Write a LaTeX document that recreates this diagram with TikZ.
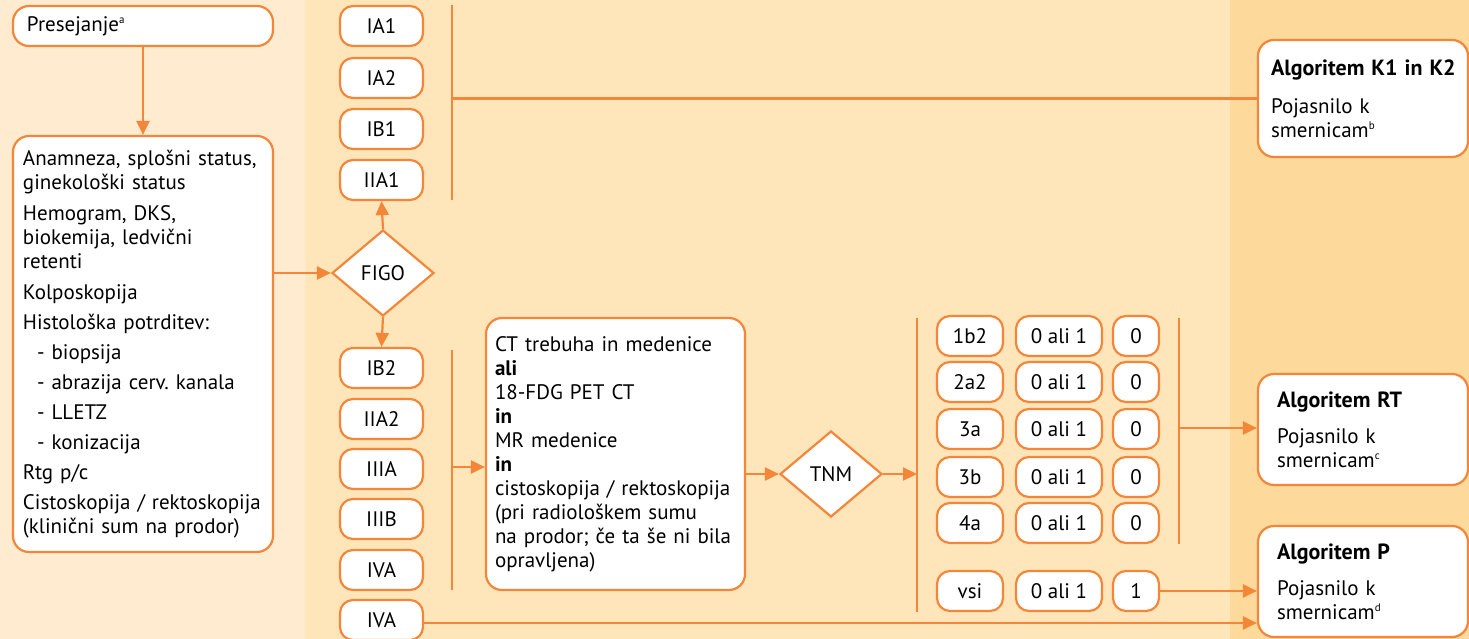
\documentclass[tikz,border=0pt]{standalone}
\usepackage{fontspec}
\setmainfont{PT Sans}
\usetikzlibrary{arrows.meta,shapes.geometric}
\definecolor{bgL}{HTML}{FEEBD0}
\definecolor{bgM}{HTML}{FEE5BA}
\definecolor{bgR}{HTML}{FDD99B}
\definecolor{org}{HTML}{F4863A}
\frenchspacing
\newcommand{\sups}[1]{\textsuperscript{\fontsize{11}{11}\selectfont #1}}
\newcommand{\hd}[1]{\mbox{\fontsize{22}{24}\selectfont\bfseries #1}}
\tikzset{
  box/.style={draw=org, line width=2.2pt, fill=white, rounded corners=13pt, inner sep=0pt,
    font=\fontsize{21}{24}\selectfont},
  stage/.style={box, minimum width=83pt, minimum height=40pt},
  tnmbox/.style={box, minimum height=40pt},
  bigbox/.style={box, rounded corners=16pt, align=left},
  dia/.style={diamond, draw=org, line width=2.2pt, fill=white, inner sep=0pt,
    minimum width=102pt, minimum height=86pt, font=\fontsize{21}{24}\selectfont},
  arr/.style={draw=org, line width=2.2pt, -{Triangle[length=14pt,width=13pt]}},
  ln/.style={draw=org, line width=2.2pt},
}
\begin{document}
\begin{tikzpicture}[x=1pt,y=-1pt]
\useasboundingbox (0,0) rectangle (1469,639);
\fill[bgL] (0,0) rectangle (305,639);
\fill[bgM] (305,0) rectangle (1230,639);
\fill[bgR] (1230,0) rectangle (1469,639);

% left column
\node[bigbox, minimum width=260pt, minimum height=40pt, text width=232pt, inner xsep=14pt] (pres) at (143,26) {Presejanje\sups{a}};
\node[bigbox, minimum width=260pt, minimum height=416pt, text width=240pt, inner xsep=10pt] (anam) at (143,344)
 {\mbox{Anamneza, splošni status,}\\ ginekološki status\\[7pt]
  Hemogram, DKS,\\ biokemija, ledvični\\ retenti\\[7pt]
  Kolposkopija\\[6pt]
  Histološka potrditev:\\[6pt]
  \hspace*{14pt}- biopsija\\[6pt]
  \hspace*{14pt}\mbox{- abrazija cerv. kanala}\\[6pt]
  \hspace*{14pt}- LLETZ\\[6pt]
  \hspace*{14pt}- konizacija\\[6pt]
  Rtg p/c\\[6pt]
  \mbox{Cistoskopija / rektoskopija}\\ \mbox{(klinični sum na prodor)}};

% FIGO stages
\node[stage] (ia1) at (381.5,26) {IA1};
\node[stage] (ia2) at (381.5,78) {IA2};
\node[stage] (ib1) at (381.5,129) {IB1};
\node[stage] (iia1) at (381.5,180) {IIA1};
\node[dia] (figo) at (383,273) {FIGO};
\node[stage] (ib2) at (381.5,368) {IB2};
\node[stage] (iia2) at (381.5,419) {IIA2};
\node[stage] (iiia) at (381.5,469) {IIIA};
\node[stage] (iiib) at (381.5,519) {IIIB};
\node[stage] (iva) at (381.5,570) {IVA};
\node[stage] (ivb) at (381.5,620) {IVA};

% CT box
\node[bigbox, minimum width=259pt, minimum height=272pt, text width=241pt, inner xsep=9pt] (ct) at (615.5,454)
 {\mbox{CT trebuha in medenice}\\ \textbf{ali}\\ 18-FDG PET CT\\ \textbf{in}\\ MR medenice\\ \textbf{in}\\
  \mbox{cistoskopija / rektoskopija}\\ \mbox{(pri radiološkem sumu}\\ \mbox{na prodor; če ta še ni bila}\\ opravljena)};
\node[dia] (tnm) at (831,474) {TNM};

% TNM grid
\foreach \r/\t/\c/\y in {a/1b2/0/336, b/2a2/0/382, c/3a/0/429, d/3b/0/477, e/4a/0/523, f/vsi/1/591}{
  \node[tnmbox, minimum width=66pt] (t\r) at (970,\y) {\t};
  \node[tnmbox, minimum width=86pt] (n\r) at (1059,\y) {0 ali 1};
  \node[tnmbox, minimum width=46pt] (m\r) at (1136,\y) {\c};
}

% right boxes
\node[bigbox, minimum width=210pt, minimum height=117pt, text width=184pt, inner xsep=13pt] (k1) at (1363,98.5)
 {\hd{Algoritem K1 in K2}\\[14pt] Pojasnilo k\\ smernicam\sups{b}};
\node[bigbox, minimum width=210pt, minimum height=111pt, text width=172pt, inner xsep=19pt] (rt) at (1363,429.5)
 {\hd{Algoritem RT}\\[12pt] Pojasnilo k\\ smernicam\sups{c}};
\node[bigbox, minimum width=210pt, minimum height=111pt, text width=172pt, inner xsep=19pt] (pp) at (1363,581.5)
 {\hd{Algoritem P}\\[12pt] Pojasnilo k\\ smernicam\sups{d}};

% bracket coordinates
\coordinate (b1t) at (452,5);
\coordinate (b1b) at (452,200);
\coordinate (b2t) at (452,350);
\coordinate (b2b) at (452,590);
\coordinate (b2m) at (452,467);
\coordinate (b3t) at (917,318);
\coordinate (b3b) at (917,612);
\coordinate (b4t) at (1179,318);
\coordinate (b4b) at (1179,544);
\coordinate (b4m) at (1179,428);

% connectors
\draw[arr] (pres.south) -- (anam.north);
\draw[arr] (figo.west -| anam.east) -- (figo.west);
\draw[arr] (figo.north) -- (iia1.south);
\draw[arr] (figo.south) -- (ib2.north);
\draw[ln] (b1t) -- (b1b);
\draw[ln] (b1t |- k1.west) -- (k1.west);
\draw[ln] (b2t) -- (b2b);
\draw[arr] (b2m) -- (b2m -| ct.west);
\draw[arr] (tnm.west -| ct.east) -- (tnm.west);
\draw[arr] (tnm.east) -- (tnm.east -| b3t);
\draw[ln] (b3t) -- (b3b);
\draw[ln] (b4t) -- (b4b);
\draw[arr] (b4m) -- (b4m -| rt.west);
\draw[arr] (mf.east) -- (mf.east -| pp.west);
\draw[arr] (ivb.east) ++(0,3) coordinate (ivo) -- (ivo -| pp.west);
\end{tikzpicture}
\end{document}
